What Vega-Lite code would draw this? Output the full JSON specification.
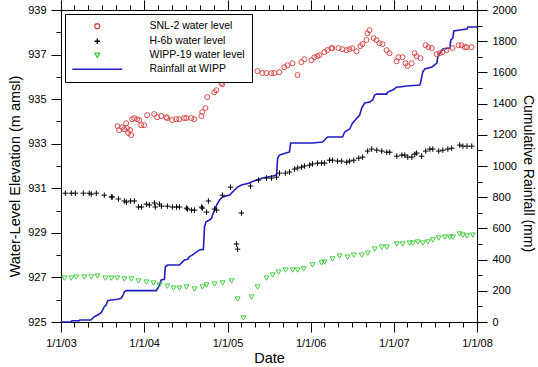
{
  "$schema": "https://vega.github.io/schema/vega-lite/v6.json",
  "width": 416,
  "height": 312,
  "autosize": "none",
  "padding": {"left": 61, "top": 10, "right": 61, "bottom": 45},
  "background": "white",
  "config": {
    "font": "Liberation Sans",
    "view": {"stroke": "black", "strokeWidth": 1},
    "axis": {
      "domain": false, "grid": false, "tickColor": "black", "tickWidth": 1,
      "labelColor": "black", "titleColor": "black",
      "labelFont": "Liberation Sans", "titleFont": "Liberation Sans",
      "labelFontSize": 11, "titleFontSize": 14.5, "titleFontWeight": "normal",
      "labelFlush": false, "labelOverlap": false, "labelPadding": 5
    }
  },
  "datasets": {
    "wells": [
      {"series": "SNL-2 water level", "date": "2003-09-06", "level": 933.79},
      {"series": "SNL-2 water level", "date": "2003-09-13", "level": 933.61},
      {"series": "SNL-2 water level", "date": "2003-09-26", "level": 933.74},
      {"series": "SNL-2 water level", "date": "2003-10-05", "level": 933.65},
      {"series": "SNL-2 water level", "date": "2003-10-14", "level": 933.92},
      {"series": "SNL-2 water level", "date": "2003-10-18", "level": 933.70},
      {"series": "SNL-2 water level", "date": "2003-10-23", "level": 933.48},
      {"series": "SNL-2 water level", "date": "2003-10-31", "level": 933.61},
      {"series": "SNL-2 water level", "date": "2003-11-05", "level": 933.39},
      {"series": "SNL-2 water level", "date": "2003-11-09", "level": 934.10},
      {"series": "SNL-2 water level", "date": "2003-11-18", "level": 934.15},
      {"series": "SNL-2 water level", "date": "2003-12-01", "level": 934.10},
      {"series": "SNL-2 water level", "date": "2003-12-10", "level": 934.06},
      {"series": "SNL-2 water level", "date": "2003-12-19", "level": 933.83},
      {"series": "SNL-2 water level", "date": "2004-01-01", "level": 933.83},
      {"series": "SNL-2 water level", "date": "2004-01-14", "level": 934.28},
      {"series": "SNL-2 water level", "date": "2004-02-14", "level": 934.33},
      {"series": "SNL-2 water level", "date": "2004-02-27", "level": 934.19},
      {"series": "SNL-2 water level", "date": "2004-03-16", "level": 934.24},
      {"series": "SNL-2 water level", "date": "2004-04-07", "level": 934.19},
      {"series": "SNL-2 water level", "date": "2004-04-11", "level": 934.15},
      {"series": "SNL-2 water level", "date": "2004-05-03", "level": 934.06},
      {"series": "SNL-2 water level", "date": "2004-05-21", "level": 934.10},
      {"series": "SNL-2 water level", "date": "2004-06-03", "level": 934.10},
      {"series": "SNL-2 water level", "date": "2004-06-25", "level": 934.15},
      {"series": "SNL-2 water level", "date": "2004-07-04", "level": 934.15},
      {"series": "SNL-2 water level", "date": "2004-07-26", "level": 934.15},
      {"series": "SNL-2 water level", "date": "2004-08-08", "level": 934.10},
      {"series": "SNL-2 water level", "date": "2004-09-08", "level": 934.24},
      {"series": "SNL-2 water level", "date": "2004-09-12", "level": 934.42},
      {"series": "SNL-2 water level", "date": "2004-09-26", "level": 934.60},
      {"series": "SNL-2 water level", "date": "2004-10-04", "level": 935.09},
      {"series": "SNL-2 water level", "date": "2004-11-04", "level": 935.31},
      {"series": "SNL-2 water level", "date": "2004-11-13", "level": 935.40},
      {"series": "SNL-2 water level", "date": "2004-12-05", "level": 935.72},
      {"series": "SNL-2 water level", "date": "2004-12-09", "level": 935.67},
      {"series": "SNL-2 water level", "date": "2005-01-13", "level": 935.94},
      {"series": "SNL-2 water level", "date": "2005-03-03", "level": 936.03},
      {"series": "SNL-2 water level", "date": "2005-03-16", "level": 936.17},
      {"series": "SNL-2 water level", "date": "2005-04-07", "level": 936.17},
      {"series": "SNL-2 water level", "date": "2005-05-12", "level": 936.26},
      {"series": "SNL-2 water level", "date": "2005-06-03", "level": 936.17},
      {"series": "SNL-2 water level", "date": "2005-06-20", "level": 936.17},
      {"series": "SNL-2 water level", "date": "2005-07-12", "level": 936.17},
      {"series": "SNL-2 water level", "date": "2005-07-25", "level": 936.17},
      {"series": "SNL-2 water level", "date": "2005-08-16", "level": 936.21},
      {"series": "SNL-2 water level", "date": "2005-09-07", "level": 936.43},
      {"series": "SNL-2 water level", "date": "2005-09-21", "level": 936.52},
      {"series": "SNL-2 water level", "date": "2005-10-13", "level": 936.61},
      {"series": "SNL-2 water level", "date": "2005-11-04", "level": 936.08},
      {"series": "SNL-2 water level", "date": "2005-11-21", "level": 936.66},
      {"series": "SNL-2 water level", "date": "2005-12-04", "level": 936.79},
      {"series": "SNL-2 water level", "date": "2006-01-04", "level": 936.75},
      {"series": "SNL-2 water level", "date": "2006-01-17", "level": 936.88},
      {"series": "SNL-2 water level", "date": "2006-01-30", "level": 936.93},
      {"series": "SNL-2 water level", "date": "2006-02-08", "level": 936.97},
      {"series": "SNL-2 water level", "date": "2006-03-02", "level": 937.11},
      {"series": "SNL-2 water level", "date": "2006-03-15", "level": 937.20},
      {"series": "SNL-2 water level", "date": "2006-04-02", "level": 937.29},
      {"series": "SNL-2 water level", "date": "2006-04-06", "level": 937.29},
      {"series": "SNL-2 water level", "date": "2006-05-03", "level": 937.29},
      {"series": "SNL-2 water level", "date": "2006-05-20", "level": 937.24},
      {"series": "SNL-2 water level", "date": "2006-06-07", "level": 937.20},
      {"series": "SNL-2 water level", "date": "2006-06-20", "level": 937.24},
      {"series": "SNL-2 water level", "date": "2006-07-03", "level": 937.29},
      {"series": "SNL-2 water level", "date": "2006-07-21", "level": 937.15},
      {"series": "SNL-2 water level", "date": "2006-08-07", "level": 937.38},
      {"series": "SNL-2 water level", "date": "2006-08-16", "level": 937.47},
      {"series": "SNL-2 water level", "date": "2006-09-03", "level": 937.65},
      {"series": "SNL-2 water level", "date": "2006-09-07", "level": 937.96},
      {"series": "SNL-2 water level", "date": "2006-09-16", "level": 938.09},
      {"series": "SNL-2 water level", "date": "2006-10-04", "level": 937.74},
      {"series": "SNL-2 water level", "date": "2006-10-17", "level": 937.65},
      {"series": "SNL-2 water level", "date": "2006-10-30", "level": 937.51},
      {"series": "SNL-2 water level", "date": "2006-11-12", "level": 937.47},
      {"series": "SNL-2 water level", "date": "2006-11-30", "level": 937.20},
      {"series": "SNL-2 water level", "date": "2006-12-13", "level": 937.06},
      {"series": "SNL-2 water level", "date": "2007-01-13", "level": 936.70},
      {"series": "SNL-2 water level", "date": "2007-01-21", "level": 936.88},
      {"series": "SNL-2 water level", "date": "2007-02-08", "level": 936.88},
      {"series": "SNL-2 water level", "date": "2007-02-21", "level": 936.61},
      {"series": "SNL-2 water level", "date": "2007-03-02", "level": 936.48},
      {"series": "SNL-2 water level", "date": "2007-03-20", "level": 936.61},
      {"series": "SNL-2 water level", "date": "2007-04-02", "level": 937.06},
      {"series": "SNL-2 water level", "date": "2007-04-10", "level": 936.93},
      {"series": "SNL-2 water level", "date": "2007-04-28", "level": 936.84},
      {"series": "SNL-2 water level", "date": "2007-05-20", "level": 937.42},
      {"series": "SNL-2 water level", "date": "2007-06-02", "level": 937.33},
      {"series": "SNL-2 water level", "date": "2007-06-16", "level": 937.29},
      {"series": "SNL-2 water level", "date": "2007-07-08", "level": 937.02},
      {"series": "SNL-2 water level", "date": "2007-07-21", "level": 937.06},
      {"series": "SNL-2 water level", "date": "2007-08-03", "level": 937.11},
      {"series": "SNL-2 water level", "date": "2007-08-20", "level": 937.20},
      {"series": "SNL-2 water level", "date": "2007-09-16", "level": 937.29},
      {"series": "SNL-2 water level", "date": "2007-10-12", "level": 937.42},
      {"series": "SNL-2 water level", "date": "2007-10-25", "level": 937.42},
      {"series": "SNL-2 water level", "date": "2007-11-08", "level": 937.33},
      {"series": "SNL-2 water level", "date": "2007-11-17", "level": 937.33},
      {"series": "SNL-2 water level", "date": "2007-12-08", "level": 937.33},
      {"series": "H-6b water level", "date": "2003-01-20", "level": 930.78},
      {"series": "H-6b water level", "date": "2003-02-15", "level": 930.78},
      {"series": "H-6b water level", "date": "2003-03-05", "level": 930.78},
      {"series": "H-6b water level", "date": "2003-04-09", "level": 930.78},
      {"series": "H-6b water level", "date": "2003-05-05", "level": 930.78},
      {"series": "H-6b water level", "date": "2003-05-14", "level": 930.74},
      {"series": "H-6b water level", "date": "2003-06-05", "level": 930.78},
      {"series": "H-6b water level", "date": "2003-07-10", "level": 930.69},
      {"series": "H-6b water level", "date": "2003-08-10", "level": 930.61},
      {"series": "H-6b water level", "date": "2003-08-14", "level": 930.61},
      {"series": "H-6b water level", "date": "2003-09-10", "level": 930.52},
      {"series": "H-6b water level", "date": "2003-10-06", "level": 930.43},
      {"series": "H-6b water level", "date": "2003-10-15", "level": 930.38},
      {"series": "H-6b water level", "date": "2003-11-02", "level": 930.43},
      {"series": "H-6b water level", "date": "2003-11-19", "level": 930.43},
      {"series": "H-6b water level", "date": "2003-12-07", "level": 930.16},
      {"series": "H-6b water level", "date": "2003-12-20", "level": 930.16},
      {"series": "H-6b water level", "date": "2004-01-11", "level": 930.29},
      {"series": "H-6b water level", "date": "2004-01-24", "level": 930.25},
      {"series": "H-6b water level", "date": "2004-02-15", "level": 930.34},
      {"series": "H-6b water level", "date": "2004-02-19", "level": 930.16},
      {"series": "H-6b water level", "date": "2004-03-08", "level": 930.29},
      {"series": "H-6b water level", "date": "2004-03-17", "level": 930.20},
      {"series": "H-6b water level", "date": "2004-04-12", "level": 930.20},
      {"series": "H-6b water level", "date": "2004-05-04", "level": 930.16},
      {"series": "H-6b water level", "date": "2004-05-22", "level": 930.16},
      {"series": "H-6b water level", "date": "2004-06-04", "level": 930.16},
      {"series": "H-6b water level", "date": "2004-07-05", "level": 930.11},
      {"series": "H-6b water level", "date": "2004-07-09", "level": 930.07},
      {"series": "H-6b water level", "date": "2004-07-27", "level": 930.02},
      {"series": "H-6b water level", "date": "2004-08-09", "level": 930.02},
      {"series": "H-6b water level", "date": "2004-09-09", "level": 930.16},
      {"series": "H-6b water level", "date": "2004-09-13", "level": 930.11},
      {"series": "H-6b water level", "date": "2004-10-01", "level": 929.93},
      {"series": "H-6b water level", "date": "2004-10-09", "level": 930.43},
      {"series": "H-6b water level", "date": "2004-11-05", "level": 930.07},
      {"series": "H-6b water level", "date": "2004-11-14", "level": 930.02},
      {"series": "H-6b water level", "date": "2004-12-10", "level": 930.69},
      {"series": "H-6b water level", "date": "2005-01-14", "level": 931.05},
      {"series": "H-6b water level", "date": "2005-02-09", "level": 928.50},
      {"series": "H-6b water level", "date": "2005-02-14", "level": 928.27},
      {"series": "H-6b water level", "date": "2005-03-03", "level": 929.89},
      {"series": "H-6b water level", "date": "2005-04-12", "level": 931.10},
      {"series": "H-6b water level", "date": "2005-05-17", "level": 931.37},
      {"series": "H-6b water level", "date": "2005-06-21", "level": 931.46},
      {"series": "H-6b water level", "date": "2005-07-13", "level": 931.46},
      {"series": "H-6b water level", "date": "2005-08-04", "level": 931.50},
      {"series": "H-6b water level", "date": "2005-08-17", "level": 931.68},
      {"series": "H-6b water level", "date": "2005-09-12", "level": 931.68},
      {"series": "H-6b water level", "date": "2005-09-30", "level": 931.73},
      {"series": "H-6b water level", "date": "2005-10-22", "level": 931.86},
      {"series": "H-6b water level", "date": "2005-11-05", "level": 931.91},
      {"series": "H-6b water level", "date": "2005-11-22", "level": 931.95},
      {"series": "H-6b water level", "date": "2005-12-05", "level": 932.00},
      {"series": "H-6b water level", "date": "2005-12-27", "level": 932.04},
      {"series": "H-6b water level", "date": "2006-01-09", "level": 932.09},
      {"series": "H-6b water level", "date": "2006-01-31", "level": 932.13},
      {"series": "H-6b water level", "date": "2006-02-18", "level": 932.13},
      {"series": "H-6b water level", "date": "2006-03-03", "level": 932.13},
      {"series": "H-6b water level", "date": "2006-03-25", "level": 932.26},
      {"series": "H-6b water level", "date": "2006-04-07", "level": 932.26},
      {"series": "H-6b water level", "date": "2006-04-29", "level": 932.22},
      {"series": "H-6b water level", "date": "2006-05-17", "level": 932.22},
      {"series": "H-6b water level", "date": "2006-06-08", "level": 932.17},
      {"series": "H-6b water level", "date": "2006-06-21", "level": 932.22},
      {"series": "H-6b water level", "date": "2006-07-09", "level": 932.26},
      {"series": "H-6b water level", "date": "2006-07-31", "level": 932.35},
      {"series": "H-6b water level", "date": "2006-08-17", "level": 932.40},
      {"series": "H-6b water level", "date": "2006-09-08", "level": 932.67},
      {"series": "H-6b water level", "date": "2006-09-26", "level": 932.76},
      {"series": "H-6b water level", "date": "2006-10-18", "level": 932.71},
      {"series": "H-6b water level", "date": "2006-11-09", "level": 932.67},
      {"series": "H-6b water level", "date": "2006-12-01", "level": 932.62},
      {"series": "H-6b water level", "date": "2006-12-14", "level": 932.62},
      {"series": "H-6b water level", "date": "2007-01-14", "level": 932.44},
      {"series": "H-6b water level", "date": "2007-02-05", "level": 932.49},
      {"series": "H-6b water level", "date": "2007-02-18", "level": 932.49},
      {"series": "H-6b water level", "date": "2007-03-03", "level": 932.40},
      {"series": "H-6b water level", "date": "2007-03-21", "level": 932.40},
      {"series": "H-6b water level", "date": "2007-04-03", "level": 932.53},
      {"series": "H-6b water level", "date": "2007-04-11", "level": 932.58},
      {"series": "H-6b water level", "date": "2007-05-03", "level": 932.44},
      {"series": "H-6b water level", "date": "2007-05-21", "level": 932.67},
      {"series": "H-6b water level", "date": "2007-06-08", "level": 932.76},
      {"series": "H-6b water level", "date": "2007-06-21", "level": 932.76},
      {"series": "H-6b water level", "date": "2007-07-17", "level": 932.67},
      {"series": "H-6b water level", "date": "2007-08-04", "level": 932.71},
      {"series": "H-6b water level", "date": "2007-08-26", "level": 932.76},
      {"series": "H-6b water level", "date": "2007-09-12", "level": 932.80},
      {"series": "H-6b water level", "date": "2007-10-17", "level": 932.94},
      {"series": "H-6b water level", "date": "2007-10-31", "level": 932.89},
      {"series": "H-6b water level", "date": "2007-11-18", "level": 932.89},
      {"series": "H-6b water level", "date": "2007-12-09", "level": 932.89},
      {"series": "WIPP-19 water level", "date": "2003-01-16", "level": 926.97},
      {"series": "WIPP-19 water level", "date": "2003-02-15", "level": 926.97},
      {"series": "WIPP-19 water level", "date": "2003-03-09", "level": 927.02},
      {"series": "WIPP-19 water level", "date": "2003-04-13", "level": 927.02},
      {"series": "WIPP-19 water level", "date": "2003-05-14", "level": 927.02},
      {"series": "WIPP-19 water level", "date": "2003-06-10", "level": 927.06},
      {"series": "WIPP-19 water level", "date": "2003-07-15", "level": 926.97},
      {"series": "WIPP-19 water level", "date": "2003-08-10", "level": 926.97},
      {"series": "WIPP-19 water level", "date": "2003-09-05", "level": 926.97},
      {"series": "WIPP-19 water level", "date": "2003-10-06", "level": 926.93},
      {"series": "WIPP-19 water level", "date": "2003-11-06", "level": 926.93},
      {"series": "WIPP-19 water level", "date": "2003-12-07", "level": 926.84},
      {"series": "WIPP-19 water level", "date": "2004-01-11", "level": 926.79},
      {"series": "WIPP-19 water level", "date": "2004-02-11", "level": 926.75},
      {"series": "WIPP-19 water level", "date": "2004-03-08", "level": 926.66},
      {"series": "WIPP-19 water level", "date": "2004-04-12", "level": 926.61},
      {"series": "WIPP-19 water level", "date": "2004-05-09", "level": 926.52},
      {"series": "WIPP-19 water level", "date": "2004-06-04", "level": 926.52},
      {"series": "WIPP-19 water level", "date": "2004-07-05", "level": 926.57},
      {"series": "WIPP-19 water level", "date": "2004-08-09", "level": 926.48},
      {"series": "WIPP-19 water level", "date": "2004-09-13", "level": 926.57},
      {"series": "WIPP-19 water level", "date": "2004-10-01", "level": 926.66},
      {"series": "WIPP-19 water level", "date": "2004-11-05", "level": 926.70},
      {"series": "WIPP-19 water level", "date": "2004-12-10", "level": 926.75},
      {"series": "WIPP-19 water level", "date": "2005-01-19", "level": 926.84},
      {"series": "WIPP-19 water level", "date": "2005-02-14", "level": 926.03},
      {"series": "WIPP-19 water level", "date": "2005-03-12", "level": 925.18},
      {"series": "WIPP-19 water level", "date": "2005-04-16", "level": 926.12},
      {"series": "WIPP-19 water level", "date": "2005-05-13", "level": 926.57},
      {"series": "WIPP-19 water level", "date": "2005-06-21", "level": 926.97},
      {"series": "WIPP-19 water level", "date": "2005-07-18", "level": 927.11},
      {"series": "WIPP-19 water level", "date": "2005-08-13", "level": 927.24},
      {"series": "WIPP-19 water level", "date": "2005-09-13", "level": 927.33},
      {"series": "WIPP-19 water level", "date": "2005-10-14", "level": 927.33},
      {"series": "WIPP-19 water level", "date": "2005-11-05", "level": 927.33},
      {"series": "WIPP-19 water level", "date": "2005-12-01", "level": 927.38},
      {"series": "WIPP-19 water level", "date": "2006-01-09", "level": 927.56},
      {"series": "WIPP-19 water level", "date": "2006-02-18", "level": 927.65},
      {"series": "WIPP-19 water level", "date": "2006-03-03", "level": 927.69},
      {"series": "WIPP-19 water level", "date": "2006-04-07", "level": 927.83},
      {"series": "WIPP-19 water level", "date": "2006-05-08", "level": 927.96},
      {"series": "WIPP-19 water level", "date": "2006-06-12", "level": 927.91},
      {"series": "WIPP-19 water level", "date": "2006-07-09", "level": 928.00},
      {"series": "WIPP-19 water level", "date": "2006-08-13", "level": 928.00},
      {"series": "WIPP-19 water level", "date": "2006-09-08", "level": 928.09},
      {"series": "WIPP-19 water level", "date": "2006-10-09", "level": 928.27},
      {"series": "WIPP-19 water level", "date": "2006-11-09", "level": 928.36},
      {"series": "WIPP-19 water level", "date": "2006-12-01", "level": 928.36},
      {"series": "WIPP-19 water level", "date": "2007-01-14", "level": 928.50},
      {"series": "WIPP-19 water level", "date": "2007-02-09", "level": 928.50},
      {"series": "WIPP-19 water level", "date": "2007-03-12", "level": 928.54},
      {"series": "WIPP-19 water level", "date": "2007-03-25", "level": 928.54},
      {"series": "WIPP-19 water level", "date": "2007-04-16", "level": 928.59},
      {"series": "WIPP-19 water level", "date": "2007-05-08", "level": 928.54},
      {"series": "WIPP-19 water level", "date": "2007-05-30", "level": 928.59},
      {"series": "WIPP-19 water level", "date": "2007-06-21", "level": 928.68},
      {"series": "WIPP-19 water level", "date": "2007-07-17", "level": 928.77},
      {"series": "WIPP-19 water level", "date": "2007-08-13", "level": 928.81},
      {"series": "WIPP-19 water level", "date": "2007-09-04", "level": 928.81},
      {"series": "WIPP-19 water level", "date": "2007-09-17", "level": 928.81},
      {"series": "WIPP-19 water level", "date": "2007-10-17", "level": 928.95},
      {"series": "WIPP-19 water level", "date": "2007-10-31", "level": 928.90},
      {"series": "WIPP-19 water level", "date": "2007-11-18", "level": 928.86},
      {"series": "WIPP-19 water level", "date": "2007-12-14", "level": 928.90}
    ],
    "rain": [
      {"series": "Rainfall at WIPP", "date": "2003-01-01", "rain": 0},
      {"series": "Rainfall at WIPP", "date": "2003-02-14", "rain": 0},
      {"series": "Rainfall at WIPP", "date": "2003-02-18", "rain": 8},
      {"series": "Rainfall at WIPP", "date": "2003-03-22", "rain": 8},
      {"series": "Rainfall at WIPP", "date": "2003-03-25", "rain": 13},
      {"series": "Rainfall at WIPP", "date": "2003-05-13", "rain": 13},
      {"series": "Rainfall at WIPP", "date": "2003-05-20", "rain": 24},
      {"series": "Rainfall at WIPP", "date": "2003-05-27", "rain": 34},
      {"series": "Rainfall at WIPP", "date": "2003-06-11", "rain": 45},
      {"series": "Rainfall at WIPP", "date": "2003-06-26", "rain": 60},
      {"series": "Rainfall at WIPP", "date": "2003-07-03", "rain": 77},
      {"series": "Rainfall at WIPP", "date": "2003-07-10", "rain": 98},
      {"series": "Rainfall at WIPP", "date": "2003-07-18", "rain": 109},
      {"series": "Rainfall at WIPP", "date": "2003-07-25", "rain": 137},
      {"series": "Rainfall at WIPP", "date": "2003-08-09", "rain": 141},
      {"series": "Rainfall at WIPP", "date": "2003-09-07", "rain": 146},
      {"series": "Rainfall at WIPP", "date": "2003-09-22", "rain": 152},
      {"series": "Rainfall at WIPP", "date": "2003-09-29", "rain": 167},
      {"series": "Rainfall at WIPP", "date": "2003-10-06", "rain": 194},
      {"series": "Rainfall at WIPP", "date": "2003-10-14", "rain": 201},
      {"series": "Rainfall at WIPP", "date": "2004-02-23", "rain": 201},
      {"series": "Rainfall at WIPP", "date": "2004-03-01", "rain": 216},
      {"series": "Rainfall at WIPP", "date": "2004-03-08", "rain": 237},
      {"series": "Rainfall at WIPP", "date": "2004-03-16", "rain": 269},
      {"series": "Rainfall at WIPP", "date": "2004-03-30", "rain": 274},
      {"series": "Rainfall at WIPP", "date": "2004-04-03", "rain": 354},
      {"series": "Rainfall at WIPP", "date": "2004-04-13", "rain": 365},
      {"series": "Rainfall at WIPP", "date": "2004-06-04", "rain": 365},
      {"series": "Rainfall at WIPP", "date": "2004-06-18", "rain": 387},
      {"series": "Rainfall at WIPP", "date": "2004-06-26", "rain": 397},
      {"series": "Rainfall at WIPP", "date": "2004-07-10", "rain": 402},
      {"series": "Rainfall at WIPP", "date": "2004-07-18", "rain": 419},
      {"series": "Rainfall at WIPP", "date": "2004-07-30", "rain": 429},
      {"series": "Rainfall at WIPP", "date": "2004-08-09", "rain": 440},
      {"series": "Rainfall at WIPP", "date": "2004-08-31", "rain": 462},
      {"series": "Rainfall at WIPP", "date": "2004-09-17", "rain": 466},
      {"series": "Rainfall at WIPP", "date": "2004-09-22", "rain": 611},
      {"series": "Rainfall at WIPP", "date": "2004-09-29", "rain": 643},
      {"series": "Rainfall at WIPP", "date": "2004-10-14", "rain": 654},
      {"series": "Rainfall at WIPP", "date": "2004-10-23", "rain": 667},
      {"series": "Rainfall at WIPP", "date": "2004-10-27", "rain": 686},
      {"series": "Rainfall at WIPP", "date": "2004-11-05", "rain": 718},
      {"series": "Rainfall at WIPP", "date": "2004-11-14", "rain": 750},
      {"series": "Rainfall at WIPP", "date": "2004-11-27", "rain": 782},
      {"series": "Rainfall at WIPP", "date": "2004-12-10", "rain": 801},
      {"series": "Rainfall at WIPP", "date": "2005-01-10", "rain": 814},
      {"series": "Rainfall at WIPP", "date": "2005-02-01", "rain": 846},
      {"series": "Rainfall at WIPP", "date": "2005-02-14", "rain": 865},
      {"series": "Rainfall at WIPP", "date": "2005-03-03", "rain": 878},
      {"series": "Rainfall at WIPP", "date": "2005-04-08", "rain": 891},
      {"series": "Rainfall at WIPP", "date": "2005-04-16", "rain": 897},
      {"series": "Rainfall at WIPP", "date": "2005-05-08", "rain": 910},
      {"series": "Rainfall at WIPP", "date": "2005-06-04", "rain": 923},
      {"series": "Rainfall at WIPP", "date": "2005-06-26", "rain": 929},
      {"series": "Rainfall at WIPP", "date": "2005-07-18", "rain": 936},
      {"series": "Rainfall at WIPP", "date": "2005-08-04", "rain": 942},
      {"series": "Rainfall at WIPP", "date": "2005-08-09", "rain": 1051},
      {"series": "Rainfall at WIPP", "date": "2005-08-17", "rain": 1070},
      {"series": "Rainfall at WIPP", "date": "2005-08-31", "rain": 1077},
      {"series": "Rainfall at WIPP", "date": "2005-09-30", "rain": 1090},
      {"series": "Rainfall at WIPP", "date": "2005-10-05", "rain": 1147},
      {"series": "Rainfall at WIPP", "date": "2006-01-09", "rain": 1147},
      {"series": "Rainfall at WIPP", "date": "2006-02-22", "rain": 1154},
      {"series": "Rainfall at WIPP", "date": "2006-03-16", "rain": 1186},
      {"series": "Rainfall at WIPP", "date": "2006-05-21", "rain": 1186},
      {"series": "Rainfall at WIPP", "date": "2006-05-30", "rain": 1218},
      {"series": "Rainfall at WIPP", "date": "2006-06-21", "rain": 1237},
      {"series": "Rainfall at WIPP", "date": "2006-07-04", "rain": 1276},
      {"series": "Rainfall at WIPP", "date": "2006-08-04", "rain": 1327},
      {"series": "Rainfall at WIPP", "date": "2006-08-13", "rain": 1372},
      {"series": "Rainfall at WIPP", "date": "2006-08-26", "rain": 1404},
      {"series": "Rainfall at WIPP", "date": "2006-09-17", "rain": 1410},
      {"series": "Rainfall at WIPP", "date": "2006-09-30", "rain": 1423},
      {"series": "Rainfall at WIPP", "date": "2006-10-09", "rain": 1455},
      {"series": "Rainfall at WIPP", "date": "2006-10-18", "rain": 1461},
      {"series": "Rainfall at WIPP", "date": "2006-12-01", "rain": 1461},
      {"series": "Rainfall at WIPP", "date": "2006-12-05", "rain": 1474},
      {"series": "Rainfall at WIPP", "date": "2006-12-27", "rain": 1487},
      {"series": "Rainfall at WIPP", "date": "2007-01-14", "rain": 1506},
      {"series": "Rainfall at WIPP", "date": "2007-01-27", "rain": 1506},
      {"series": "Rainfall at WIPP", "date": "2007-02-27", "rain": 1513},
      {"series": "Rainfall at WIPP", "date": "2007-04-25", "rain": 1519},
      {"series": "Rainfall at WIPP", "date": "2007-04-29", "rain": 1538},
      {"series": "Rainfall at WIPP", "date": "2007-05-08", "rain": 1603},
      {"series": "Rainfall at WIPP", "date": "2007-05-17", "rain": 1622},
      {"series": "Rainfall at WIPP", "date": "2007-06-17", "rain": 1635},
      {"series": "Rainfall at WIPP", "date": "2007-07-09", "rain": 1660},
      {"series": "Rainfall at WIPP", "date": "2007-07-13", "rain": 1699},
      {"series": "Rainfall at WIPP", "date": "2007-07-22", "rain": 1724},
      {"series": "Rainfall at WIPP", "date": "2007-08-04", "rain": 1750},
      {"series": "Rainfall at WIPP", "date": "2007-09-04", "rain": 1756},
      {"series": "Rainfall at WIPP", "date": "2007-09-08", "rain": 1808},
      {"series": "Rainfall at WIPP", "date": "2007-09-17", "rain": 1820},
      {"series": "Rainfall at WIPP", "date": "2007-09-21", "rain": 1865},
      {"series": "Rainfall at WIPP", "date": "2007-10-18", "rain": 1872},
      {"series": "Rainfall at WIPP", "date": "2007-11-18", "rain": 1878},
      {"series": "Rainfall at WIPP", "date": "2007-11-22", "rain": 1891},
      {"series": "Rainfall at WIPP", "date": "2008-01-01", "rain": 1891}
    ]
  },
  "layer": [
    {
      "data": {"name": "rain"},
      "mark": {"type": "line", "strokeWidth": 1.6, "interpolate": "linear"},
      "encoding": {
        "x": {"field": "date", "type": "temporal",
              "scale": {"type": "utc", "domain": [{"year": 2003, "month": 1, "date": 1, "utc": true}, {"year": 2008, "month": 1, "date": 1, "utc": true}]},
              "axis": {"orient": "top", "labels": false, "tickCount": {"interval": "year", "step": 1}, "tickSize": 10, "title": null}},
        "y": {"field": "rain", "type": "quantitative",
              "scale": {"domain": [0, 2000], "nice": false, "zero": false},
              "axis": {"orient": "right", "values": [0, 200, 400, 600, 800, 1000, 1200, 1400, 1600, 1800, 2000], "format": "d", "tickSize": 10, "title": "Cumulative Rainfall (mm)", "titleFontSize": 14, "titlePadding": 4, "titleY": 163}},
        "color": {"field": "series", "type": "nominal",
                  "scale": {"domain": ["SNL-2 water level", "H-6b water level", "WIPP-19 water level", "Rainfall at WIPP"], "range": ["#d94a4a", "#000000", "#3fcf3f", "#1f1fbf"]},
                  "legend": {"title": null, "orient": "top-left", "offset": 4, "strokeColor": "black", "fillColor": "white", "padding": 7, "cornerRadius": 0, "labelFontSize": 10.5, "labelFont": "Liberation Sans", "labelColor": "black", "symbolSize": 25, "symbolStrokeWidth": 1.3, "symbolOpacity": 1, "rowPadding": 3, "symbolOffset": 20, "labelOffset": 47}}
      }
    },
    {
      "data": {"name": "wells"},
      "mark": {"type": "point", "filled": false, "size": 25, "strokeWidth": 1, "opacity": 1},
      "encoding": {
        "x": {"field": "date", "type": "temporal",
              "scale": {"type": "utc", "domain": [{"year": 2003, "month": 1, "date": 1, "utc": true}, {"year": 2008, "month": 1, "date": 1, "utc": true}]},
              "axis": {"orient": "bottom", "format": "%-m/%-d/%y", "tickCount": {"interval": "year", "step": 1}, "tickSize": 10, "title": "Date", "titlePadding": 3}},
        "y": {"field": "level", "type": "quantitative",
              "scale": {"domain": [925, 939], "nice": false, "zero": false},
              "axis": {"orient": "left", "values": [925, 927, 929, 931, 933, 935, 937, 939], "format": "d", "tickSize": 10, "title": "Water-Level Elevation (m amsl)", "titlePadding": 5, "titleY": 166}},
        "color": {"field": "series", "type": "nominal",
                  "scale": {"domain": ["SNL-2 water level", "H-6b water level", "WIPP-19 water level", "Rainfall at WIPP"], "range": ["#d94a4a", "#000000", "#3fcf3f", "#1f1fbf"]},
                  "legend": {"title": null, "orient": "top-left", "offset": 4, "strokeColor": "black", "fillColor": "white", "padding": 7, "cornerRadius": 0, "labelFontSize": 10.5, "labelFont": "Liberation Sans", "labelColor": "black", "symbolSize": 25, "symbolStrokeWidth": 1.3, "symbolOpacity": 1, "rowPadding": 3, "symbolOffset": 20, "labelOffset": 47}},
        "shape": {"field": "series", "type": "nominal",
                  "scale": {"domain": ["SNL-2 water level", "H-6b water level", "WIPP-19 water level", "Rainfall at WIPP"], "range": ["circle", "M-1.1,0H1.1M0,-1.1V1.1", "triangle-down", "M-10,0H10"]},
                  "legend": {"title": null, "orient": "top-left", "offset": 4, "strokeColor": "black", "fillColor": "white", "padding": 7, "cornerRadius": 0, "labelFontSize": 10.5, "labelFont": "Liberation Sans", "labelColor": "black", "symbolSize": 25, "symbolStrokeWidth": 1.3, "symbolOpacity": 1, "rowPadding": 3, "symbolOffset": 20, "labelOffset": 47}}
      }
    },
    {
      "data": {"name": "wells"},
      "mark": {"type": "point", "opacity": 0},
      "encoding": {
        "x": {"field": "date", "type": "temporal",
              "scale": {"type": "utc", "domain": [{"year": 2003, "month": 1, "date": 1, "utc": true}, {"year": 2008, "month": 1, "date": 1, "utc": true}]},
              "axis": {"orient": "bottom", "labels": false, "tickCount": {"interval": "month", "step": 2}, "tickSize": 5, "title": null}},
        "y": {"field": "level", "type": "quantitative",
              "scale": {"domain": [925, 939], "nice": false, "zero": false},
              "axis": {"orient": "left", "labels": false, "values": [925, 926, 927, 928, 929, 930, 931, 932, 933, 934, 935, 936, 937, 938, 939], "tickSize": 5, "title": null}}
      }
    },
    {
      "data": {"name": "rain"},
      "mark": {"type": "point", "opacity": 0},
      "encoding": {
        "x": {"field": "date", "type": "temporal",
              "scale": {"type": "utc", "domain": [{"year": 2003, "month": 1, "date": 1, "utc": true}, {"year": 2008, "month": 1, "date": 1, "utc": true}]},
              "axis": {"orient": "top", "labels": false, "tickCount": {"interval": "month", "step": 2}, "tickSize": 5, "title": null}},
        "y": {"field": "rain", "type": "quantitative",
              "scale": {"domain": [0, 2000], "nice": false, "zero": false},
              "axis": {"orient": "right", "labels": false, "values": [0, 100, 200, 300, 400, 500, 600, 700, 800, 900, 1000, 1100, 1200, 1300, 1400, 1500, 1600, 1700, 1800, 1900, 2000], "tickSize": 5, "title": null}}
      }
    }
  ],
  "resolve": {"scale": {"y": "independent"}, "axis": {"x": "independent", "y": "independent"}}
}
